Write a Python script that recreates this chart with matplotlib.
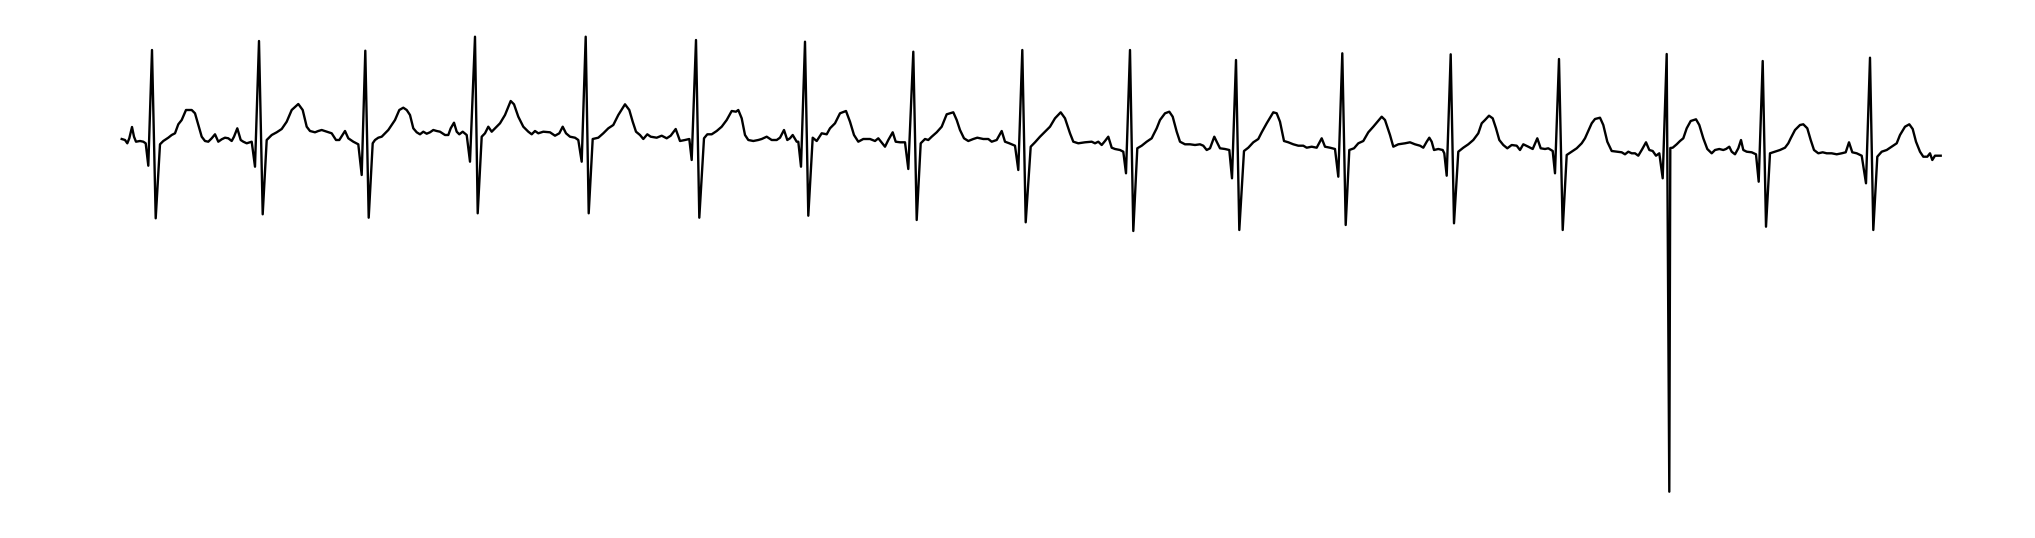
import matplotlib
matplotlib.use("Agg")
import numpy as np
import matplotlib.pyplot as plt

# ECG strip, values (time in ms, amplitude in microvolts)
time_ms = [
    7, 40, 63, 83, 110, 130, 150, 190, 223, 247, 273, 310, 347, 390, 423, 473, 507, 540, 573, 607,
    650, 707, 740, 773, 807, 840, 873, 907, 940, 973, 1007, 1040, 1073, 1107, 1130, 1163, 1197, 1223,
    1257, 1307, 1340, 1380, 1417, 1457, 1507, 1557, 1607, 1657, 1707, 1773, 1817, 1857, 1890, 1940,
    1973, 2007, 2057, 2107, 2150, 2183, 2240, 2273, 2323, 2373, 2407, 2443, 2477,
    2517, 2540, 2573, 2607, 2640, 2673, 2707, 2740, 2783, 2823, 2857, 2890, 2923, 2957, 2990, 3023,
    3057, 3090, 3123, 3157, 3190, 3240, 3273, 3297, 3330, 3357, 3383, 3417, 3457, 3490, 3540, 3567,
    3607, 3640, 3673, 3707, 3740, 3790, 3840, 3897, 3930, 3973, 4023, 4073, 4107, 4140, 4173, 4223,
    4290, 4340, 4383, 4417, 4450, 4490, 4540, 4573, 4607, 4647, 4677, 4717, 4773, 4823, 4873, 4923,
    4973, 5040, 5083,
    5117, 5150, 5190, 5223, 5263, 5297, 5357, 5407, 5457, 5497, 5547, 5590, 5640, 5683, 5707, 5750,
    5783, 5830, 5863, 5907, 5957, 6007, 6057, 6107, 6150, 6173, 6207, 6240, 6273, 6323, 6373, 6407,
    6457, 6507, 6557, 6590, 6630, 6663, 6690, 6717, 6757, 6773, 6800, 6840, 6873, 6917, 6957, 7007,
    7057, 7090, 7140, 7190, 7250, 7290, 7330, 7373, 7423, 7490, 7540, 7573, 7640, 7673, 7717, 7747,
    7790,
    7840, 7873, 7923, 7957, 7997, 8040, 8073, 8107, 8157, 8207, 8257, 8290, 8323, 8357, 8390, 8430,
    8473, 8523, 8563, 8623, 8673, 8707, 8757, 8807, 8840, 8883, 8940, 8973, 9013, 9047, 9097, 9140,
    9190, 9240, 9290, 9340, 9397, 9440, 9490, 9523, 9573, 9640, 9707, 9740, 9773, 9807, 9840, 9873,
    9907, 9940, 9990, 10023, 10050, 10090, 10123, 10163, 10207, 10257, 10307,
    10323, 10357, 10390, 10440, 10483, 10517, 10557, 10590, 10640, 10690, 10740, 10790, 10823, 10857,
    10890, 10933, 10957, 10990, 11040, 11083, 11110, 11150, 11183, 11230, 11273, 11323, 11373, 11407,
    11457, 11523, 11557, 11590, 11630, 11673, 11723, 11773, 11823, 11857, 11907, 11957, 12007, 12040,
    12090, 12140, 12173, 12213, 12247, 12283, 12330, 12373, 12423, 12473, 12523, 12607, 12640, 12690,
    12723, 12773, 12840,
    12890, 12940, 12990, 13023, 13057, 13083, 13107, 13130, 13173, 13217, 13233, 13257, 13297, 13330,
    13373, 13423, 13473, 13523, 13573, 13607, 13640, 13680, 13717, 13750, 13783, 13823, 13863, 13907,
    13957, 13990, 14023, 14073, 14117, 14163, 14197, 14240, 14273, 14317, 14340, 14380, 14417, 14457,
    14507, 14557, 14607, 14640, 14673, 14707, 14740, 14790, 14823, 14863, 14907, 14957, 15007, 15040,
    15073, 15107, 15140, 15173, 15213, 15250, 15283, 15317, 15350, 15383, 15417, 15457, 15483, 15493,
    15517, 15557, 15590, 15623, 15657, 15697, 15750, 15783, 15823, 15863, 15907, 15940, 15983, 16023,
    16050, 16083, 16107, 16140, 16173, 16200, 16223, 16257, 16307, 16350, 16377, 16417, 16450, 16490,
    16540, 16590, 16640, 16673, 16697, 16740, 16790, 16823, 16863, 16897, 16930, 16973, 17017, 17057,
    17107, 17157, 17207, 17247, 17280, 17313, 17357, 17407, 17450, 17490, 17523, 17563, 17607, 17657,
    17707, 17757, 17790, 17840, 17883, 17917, 17950, 17990, 18023, 18063, 18090, 18113, 18140, 18197,
]

ecg_uv = [
    10, 0, -33, 17, 130, 33, -17, -10, -17, -33, -257, 900, -783, -43, -10, 23, 50, 67, 157, 200,
    300, 300, 267, 150, 33, -10, -17, 17, 57, -17, 7, 23, 17, -10, 33, 117, 0, -17,
    -33, -17, -267, 990, -743, 0, 50, 77, 110, 183, 300, 360, 300, 133, 90, 77,
    90, 100, 83, 67, 0, 0, 90, 17, -17, -43, -350, 893, -777,
    -33, 0, 23, 33, 67, 100, 150, 200, 300, 323, 300, 250, 117, 77, 57, 83,
    63, 77, 100, 90, 83, 50, 50, 117, 173, 83, 57, 83, 50, -217, 1033, -733,
    33, 67, 133, 83, 117, 167, 250, 390, 357, 233, 133, 83, 57, 90, 67, 83,
    77, 43, 67, 133, 67, 33, 23, 0, -217, 1033, -733, 10, 23, 67, 117, 150,
    250, 357, 300,
    183, 83, 50, 10, 57, 33, 23, 43, 17, 43, 110, -10, 0, 10, -200, 1000,
    -777, 17, 57, 57, 90, 133, 200, 290, 283, 300, 217, 50, 0, -10, 0, 10,
    33, 0, 0, 23, 100, 0, 17, 50, -17, -17, -267, 983, -757, 23, -10, 67,
    57, 117, 167, 267, 290, 183, 50, -17, 10, 10, -10, 17, -67, 0, 77, -17,
    -23,
    -23, -290, 883, -800, -33, 10, 0, 33, 77, 133, 257, 267, 277, 200, 100, 17,
    -10, 10, 23, 10, 10, -17, 0, 90, -17, -33, -57, -300, 900, -823, -67, -23,
    33, 83, 133, 217, 277, 217, 67, -17, -33, -23, -17, -33, -17, -50, -10, 33,
    -77, -90, -100, -117, -333, 900, -910, -83, -57, -17, 17,
    50, 117, 200, 267, 283, 233, 83, -17, -43, -43, -50, -43, -57, -100,
    -83, 33, -17, -83, -90, -100, -383, 800, -900, -110, -77, -23, 10, 77,
    167, 277, 267, 183, -10, -23, -43, -57, -57, -77, -67, -77, 17, -67,
    -77, -90, -367, 867, -850, -100, -83, -33, -10, 77, 133, 233, 200, 50,
    -67, -43, -33,
    -23, -43, -57, -77, -17, 23, -17, -100, -90, -100, -133, -357, 857, -833,
    -117, -77, -43, 0, 67, 167, 200, 243, 217, 117, 0, -50, -83, -50,
    -57, -100, -43, -67, -90, 17, -83, -90, -83, -110, -333, 810, -900, -150,
    -117, -83, -33, 17, 90, 167, 210, 223, 150, -17, -110, -117, -123, -143,
    -117, -133, -133, -157, -90, -23, -100, -110, -157, -133, -383, 860, -3517, -80,
    -77, -43, -10, 17, 117, 190, 207, 150, 17, -90, -133, -100, -90, -100,
    -90, -67, -117, -143, -83, 0, -100, -117, -123, -143, -417, 790, -867, -133,
    -117, -100, -77, -33, 17, 100, 150, 157, 117, 0, -100, -133, -123, -133,
    -133, -143, -133, -123, -23, -123, -133, -157, -433, 823, -900, -167, -117, -100,
    -67, -33, 50, 133, 157, 110, -17, -117, -167, -167, -133, -200, -157, -157,
]

assert len(time_ms) == len(ecg_uv)

t = np.array(time_ms) / 1000.0
mv = np.array(ecg_uv) / 1000.0

fig = plt.figure(figsize=(20.35, 5.38), dpi=100)
ax = fig.add_axes([0, 0, 1, 1])
ax.plot(t, mv, color="black", lw=1.7)
ax.set_xlim(-1.21, 19.14)
ax.set_ylim(-3.98, 1.40)
ax.axis("off")

fig.savefig("out.png", dpi=100)
